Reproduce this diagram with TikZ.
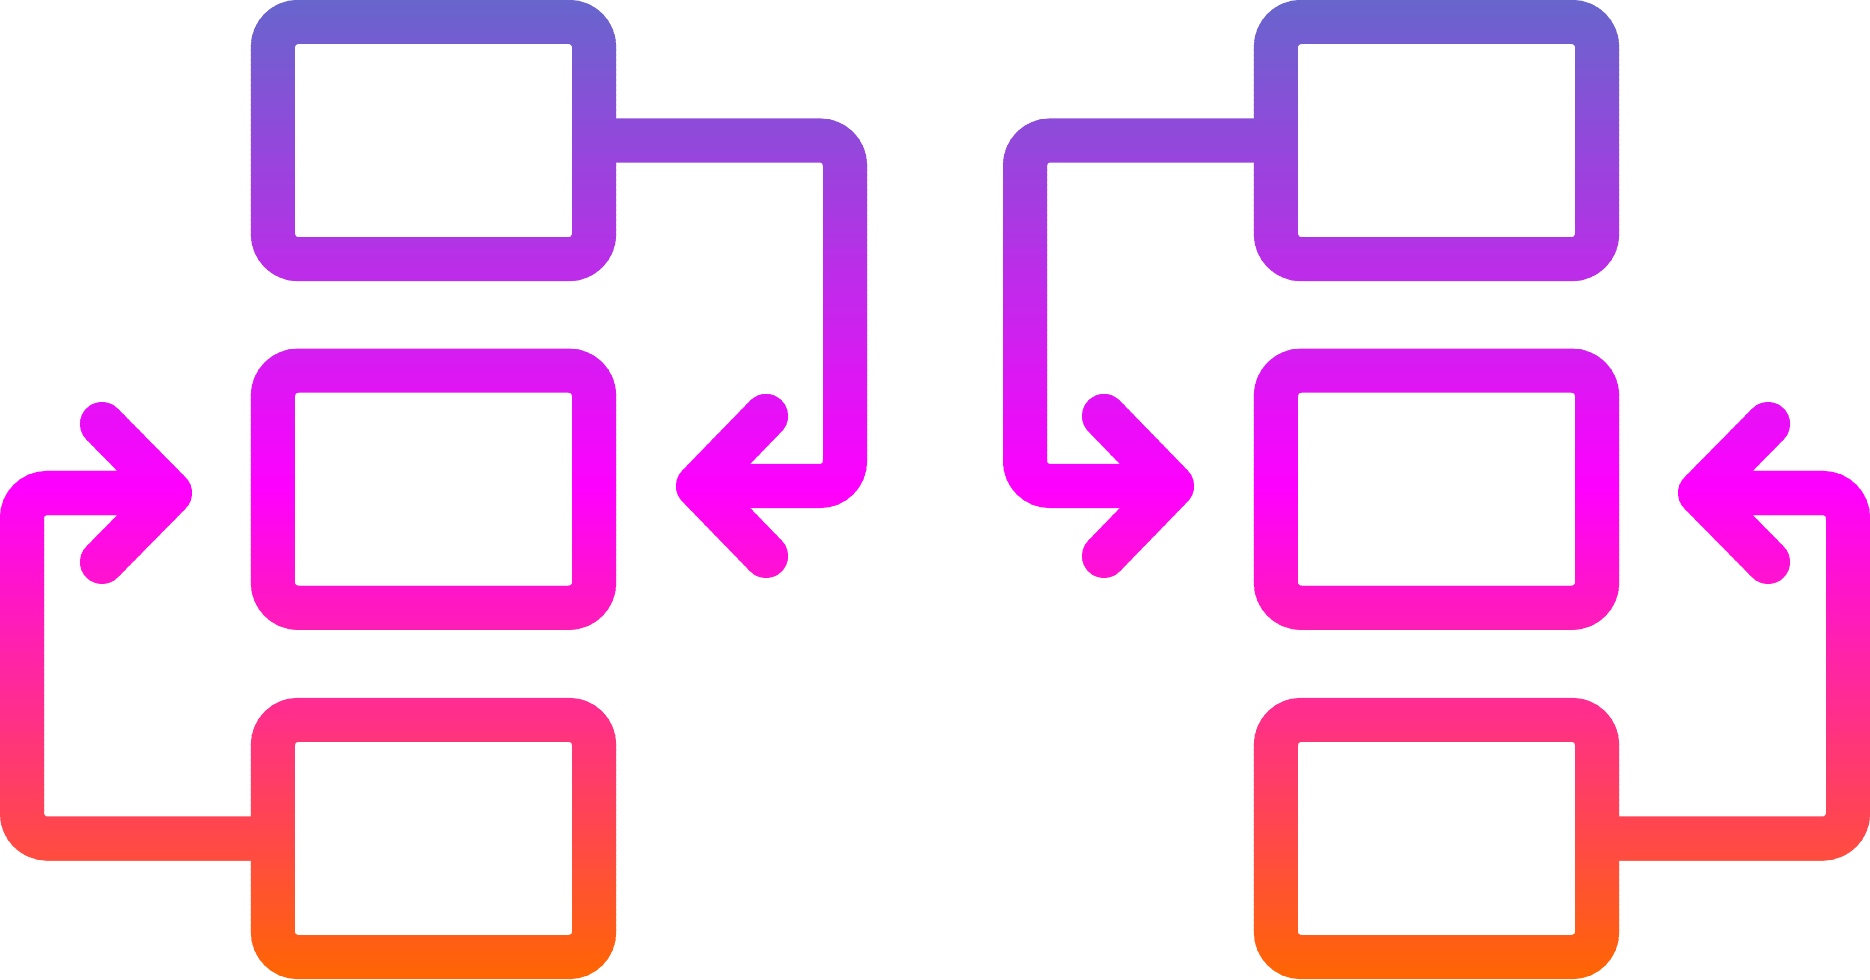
\documentclass[tikz,border=0pt]{standalone}
\usetikzlibrary{calc}
\definecolor{gA}{HTML}{6666CC}
\definecolor{gB}{HTML}{FF00FF}
\definecolor{gC}{HTML}{FF6600}
\colorlet{bandcol}{gB}
\tikzset{
 flowbox/.style={draw=bandcol, rectangle, rounded corners=0.25cm, minimum width=3.21cm, minimum height=2.37cm, inner sep=0pt, outer sep=0pt, line width=0.44cm},
 link/.style={draw=bandcol, line width=0.44cm, rounded corners=0.25cm},
 arrowarm/.style={draw=bandcol, line width=0.44cm, line cap=round, line join=round},
}
\newcommand\drawicon{%
 % left column
 \node[flowbox] (tl) at (433.5,140.5) {};
 \node[flowbox] (ml) at (433.5,489.25) {};
 \node[flowbox] (bl) at (433.5,838.5) {};
 % right column
 \node[flowbox] (tr) at (1436.5,140.5) {};
 \node[flowbox] (mr) at (1436.5,489.25) {};
 \node[flowbox] (br) at (1436.5,838.5) {};
 % left group connectors
 \coordinate (ra) at (698,486);
 \coordinate (k1) at (845,140.5);
 \draw[link] (tl.east) -- (k1) |- (ra);
 \draw[arrowarm] (ra) ++(68,-70) -- (ra) -- ++(68,70);
 \coordinate (la) at (170,493);
 \coordinate (k2) at (22,838.5);
 \draw[link] (bl.west) -- (k2) |- (la);
 \draw[arrowarm] (la) ++(-68,-69) -- (la) -- ++(-68,69);
 % right group connectors
 \coordinate (rb) at (1172,486);
 \coordinate (k3) at (1025,140.5);
 \draw[link] (tr.west) -- (k3) |- (rb);
 \draw[arrowarm] (rb) ++(-68,-70) -- (rb) -- ++(-68,70);
 \coordinate (lb) at (1700,493);
 \coordinate (k4) at (1848,838.5);
 \draw[link] (br.east) -- (k4) |- (lb);
 \draw[arrowarm] (lb) ++(68,-69) -- (lb) -- ++(68,69);
}
\begin{document}
\begin{tikzpicture}[x=0.01cm,y=-0.01cm]
\useasboundingbox (0,0) rectangle (1870,980);
\foreach \i in {0,...,195}{
  \pgfmathsetmacro\yc{5*\i+2.5}
  \ifdim\yc pt<490pt
    \pgfmathtruncatemacro\p{round(\yc/490*100)}
    \colorlet{bandcol}{gB!\p!gA}
  \else
    \pgfmathtruncatemacro\q{round((\yc-490)/490*100)}
    \colorlet{bandcol}{gC!\q!gB}
  \fi
  \begin{scope}
    \clip (0,{5*\i-0.4}) rectangle (1870,{5*\i+5.4});
    \drawicon
  \end{scope}
}
\end{tikzpicture}
\end{document}
